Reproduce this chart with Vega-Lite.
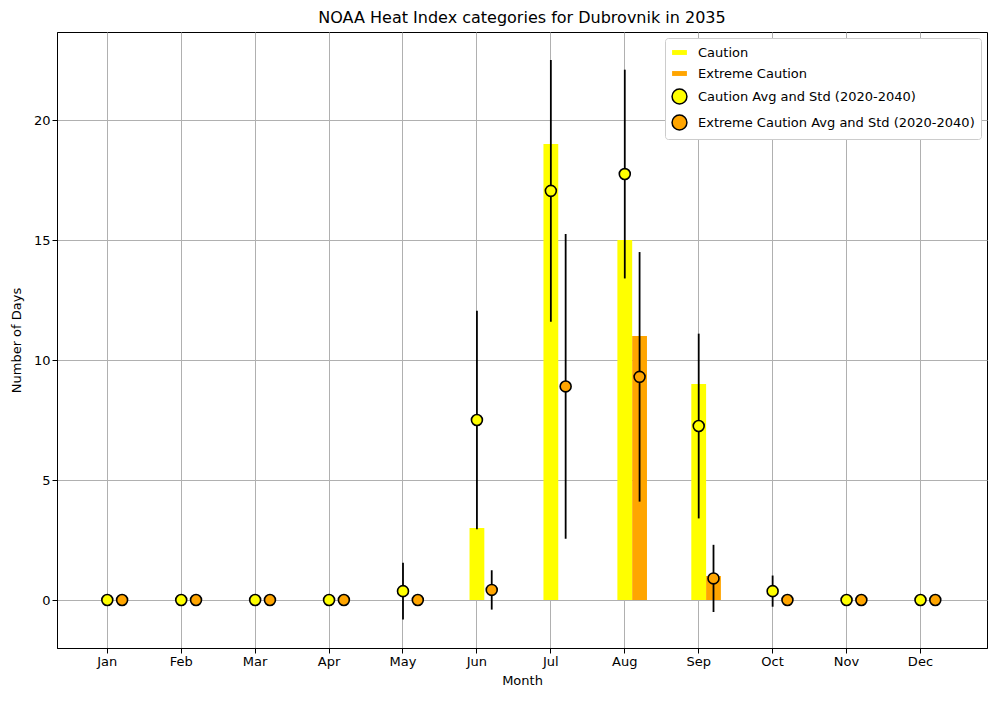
{
"$schema":"https://vega.github.io/schema/vega-lite/v6.json",
"width":930,"height":616,
"autosize":{"type":"none"},
"padding":{"left":57,"top":32,"right":9,"bottom":53},
"background":"white",
"title":{"text":"NOAA Heat Index categories for Dubrovnik in 2035","fontSize":16,"fontWeight":"normal","font":"DejaVu Sans","offset":6,"color":"black"},
"config":{"font":"DejaVu Sans","view":{"stroke":"black"},
 "axis":{"labelFont":"DejaVu Sans","titleFont":"DejaVu Sans","labelFontSize":13,"titleFontSize":13,"titleFontWeight":"normal","labelColor":"black","titleColor":"black","grid":true,"gridColor":"#b0b0b0","domainColor":"black","tickColor":"black"}},
"data":{"values":[
{"m":"Jan","series":"Caution","days":0,"avg":0,"std":0},
{"m":"Jan","series":"Extreme Caution","days":0,"avg":0,"std":0},
{"m":"Feb","series":"Caution","days":0,"avg":0,"std":0},
{"m":"Feb","series":"Extreme Caution","days":0,"avg":0,"std":0},
{"m":"Mar","series":"Caution","days":0,"avg":0,"std":0},
{"m":"Mar","series":"Extreme Caution","days":0,"avg":0,"std":0},
{"m":"Apr","series":"Caution","days":0,"avg":0,"std":0},
{"m":"Apr","series":"Extreme Caution","days":0,"avg":0,"std":0},
{"m":"May","series":"Caution","days":0,"avg":0.37,"std":1.18},
{"m":"May","series":"Extreme Caution","days":0,"avg":0,"std":0},
{"m":"Jun","series":"Caution","days":3,"avg":7.5,"std":4.55},
{"m":"Jun","series":"Extreme Caution","days":0,"avg":0.42,"std":0.82},
{"m":"Jul","series":"Caution","days":19,"avg":17.05,"std":5.45},
{"m":"Jul","series":"Extreme Caution","days":0,"avg":8.9,"std":6.35},
{"m":"Aug","series":"Caution","days":15,"avg":17.75,"std":4.35},
{"m":"Aug","series":"Extreme Caution","days":11,"avg":9.3,"std":5.2},
{"m":"Sep","series":"Caution","days":9,"avg":7.25,"std":3.85},
{"m":"Sep","series":"Extreme Caution","days":1,"avg":0.9,"std":1.4},
{"m":"Oct","series":"Caution","days":0,"avg":0.37,"std":0.65},
{"m":"Oct","series":"Extreme Caution","days":0,"avg":0,"std":0},
{"m":"Nov","series":"Caution","days":0,"avg":0,"std":0},
{"m":"Nov","series":"Extreme Caution","days":0,"avg":0,"std":0},
{"m":"Dec","series":"Caution","days":0,"avg":0,"std":0},
{"m":"Dec","series":"Extreme Caution","days":0,"avg":0,"std":0}
]},
"transform":[{"calculate":"datum.series + ' Avg and Std (2020-2040)'","as":"pt"}],
"encoding":{
 "x":{"field":"m","type":"ordinal","sort":null,"title":"Month","scale":{"paddingInner":0,"paddingOuter":0.29,"align":0.31},"axis":{"labelAngle":0,"titlePadding":6}},
 "xOffset":{"field":"series","type":"nominal","scale":{"domain":["Caution","Extreme Caution"],"range":[29.6,59.2],"paddingInner":0,"paddingOuter":0}}
},
"layer":[
 {"mark":{"type":"bar","clip":true},"encoding":{
   "y":{"field":"days","type":"quantitative","title":"Number of Days","scale":{"domain":[-2,23.67],"nice":false,"zero":false},"axis":{"values":[0,5,10,15,20],"titlePadding":10}},
   "color":{"field":"series","type":"nominal","scale":{"domain":["Caution","Extreme Caution","Caution Avg and Std (2020-2040)","Extreme Caution Avg and Std (2020-2040)"],"range":["#ffff00","#ffa500","#ffff00","#ffa500"]},
    "legend":{"title":null,"orient":"top-right","offset":6,"labelFontSize":13,"labelFont":"DejaVu Sans","labelLimit":400,"fillColor":"white","strokeColor":"#cccccc","padding":6,"cornerRadius":3,"symbolSize":220,"rowPadding":5,"labelOffset":10,
     "values":["Caution","Extreme Caution","Caution Avg and Std (2020-2040)","Extreme Caution Avg and Std (2020-2040)"],
     "encode":{"symbols":{"update":{"shape":{"signal":"indexof(datum.label,'Avg')>=0 ? 'circle' : 'M-1,-0.33H1V0.33H-1Z'"},"stroke":{"signal":"indexof(datum.label,'Avg')>=0 ? 'black' : null"},"strokeWidth":{"value":1.5}}}}}}
   }},
 {"mark":{"type":"errorbar","color":"black","thickness":1.8,"ticks":false},"encoding":{
   "y":{"field":"avg","type":"quantitative","title":"Number of Days"},"yError":{"field":"std"}}},
 {"mark":{"type":"point","filled":true,"size":120,"stroke":"black","strokeWidth":1.6,"opacity":1},"encoding":{
   "y":{"field":"avg","type":"quantitative","title":"Number of Days"},
   "fill":{"field":"pt","type":"nominal","scale":{"domain":["Caution Avg and Std (2020-2040)","Extreme Caution Avg and Std (2020-2040)"],"range":["#ffff00","#ffa500"]},"legend":null}}}
]
}
